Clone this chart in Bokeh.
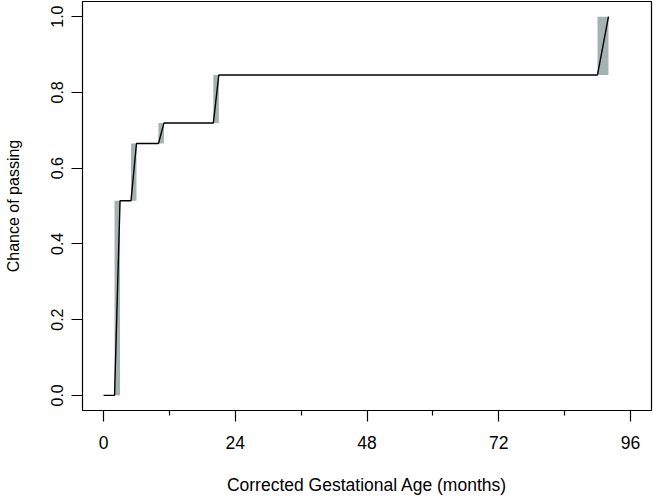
from bokeh.plotting import figure
from bokeh.models import FixedTicker, NumeralTickFormatter
from bokeh.embed import file_html
from bokeh.resources import INLINE

# Turnbull-type intervals (months) and cumulative chance of passing
interval_left = [2, 5, 10, 20, 90]
interval_right = [3, 6, 11, 21, 92]
cum_prob = [0.0, 0.514, 0.665, 0.719, 0.846, 1.0]

x_ticks = [0, 24, 48, 72, 96]
x_minor_ticks = [12, 36, 60, 84]
y_ticks = [0.0, 0.2, 0.4, 0.6, 0.8, 1.0]

# build curve from the arrays
line_x = [0]
line_y = [cum_prob[0]]
for i in range(len(interval_left)):
    line_x += [interval_left[i], interval_right[i]]
    line_y += [cum_prob[i], cum_prob[i + 1]]

FONT = "Liberation Sans"

p = figure(width=653, height=497, output_backend="svg", toolbar_location=None,
           x_range=(-3.84, 99.84), y_range=(-0.04, 1.04),
           min_border_left=82, min_border_right=2, min_border_top=1, min_border_bottom=87)
p.grid.visible = False
p.outline_line_color = "black"
p.outline_line_width = 1.2
p.background_fill_color = "white"
p.border_fill_color = "white"

p.quad(left=interval_left, right=interval_right,
       bottom=cum_prob[:-1], top=cum_prob[1:],
       fill_color="#a4b2b0", line_color=None)
p.line(line_x, line_y, line_color="black", line_width=1.4)

p.xaxis.ticker = FixedTicker(ticks=x_ticks, minor_ticks=x_minor_ticks)
p.yaxis.ticker = FixedTicker(ticks=y_ticks, minor_ticks=[])
p.yaxis.formatter = NumeralTickFormatter(format="0.0")

for ax in (p.xaxis[0], p.yaxis[0]):
    ax.axis_line_color = None
    ax.major_tick_line_color = "black"
    ax.minor_tick_line_color = "black"
    ax.major_tick_line_width = 1.2
    ax.minor_tick_line_width = 1.2
    ax.major_tick_in = 0
    ax.minor_tick_in = 0
    ax.major_label_text_font = FONT
    ax.major_label_text_color = "black"
    ax.axis_label_text_font = FONT
    ax.axis_label_text_font_style = "normal"
    ax.axis_label_text_color = "black"

p.xaxis.major_label_text_font_size = "17.5px"
p.xaxis.axis_label_text_font_size = "17.5px"
p.xaxis.major_tick_out = 11
p.xaxis.minor_tick_out = 5
p.xaxis.major_label_standoff = 14
p.xaxis.axis_label_standoff = 23
p.xaxis.axis_label = "Corrected Gestational Age (months)"

p.yaxis.major_label_text_font_size = "16px"
p.yaxis.axis_label_text_font_size = "16px"
p.yaxis.major_tick_out = 11
p.yaxis.minor_tick_out = 0
p.yaxis.major_label_orientation = "vertical"
p.yaxis.major_label_standoff = 8
p.yaxis.axis_label_standoff = 27
p.yaxis.axis_label = "Chance of passing"

open("out.html", "w").write(file_html(p, INLINE))
